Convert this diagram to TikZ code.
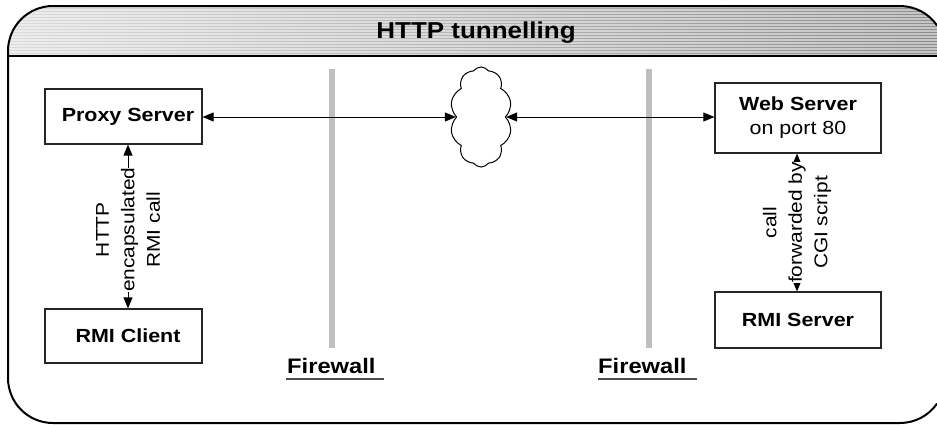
\documentclass[tikz,border=0pt]{standalone}
\usepackage{fontspec}
\setmainfont[FakeStretch=1.13]{Liberation Sans}
\usetikzlibrary{arrows.meta,shapes.symbols}
\begin{document}
\begin{tikzpicture}[x=1pt,y=-1pt,
  box/.style={draw=black!85, line width=1.2pt, inner sep=0pt, align=center},
  bl/.style={font=\fontsize{19pt}{24pt}\selectfont\bfseries},
  arr/.style={{Triangle[length=11pt,width=9pt]}-{Triangle[length=11pt,width=9pt]}, line width=1pt, black},
  vlab/.style={fill=white, inner sep=0pt, align=center, rotate=90, font=\fontsize{18.5pt}{25.5pt}\selectfont},
  fwbar/.style={line width=6pt, draw=black!25},
  fwlab/.style={inner sep=0pt, font=\fontsize{21pt}{25pt}\selectfont\bfseries},
  uline/.style={line width=1.5pt, draw=black!70},
  frame/.style={line width=2pt, draw=black}]

\useasboundingbox (0,0) rectangle (937,424);
\clip (0,0) rectangle (937,424);
% header band
\begin{scope}
  \clip (937,25.4) arc[start angle=325.3, end angle=270, radius=45] -- (53,6)
        arc[start angle=270, end angle=180, radius=45] -- (8,56) -- (937,56) -- cycle;
  \shade[left color=black!14, right color=black!45] (8,6) rectangle (937,56);
  \foreach \y in {7,10,...,55} \draw[white, opacity=0.5, line width=1.2pt] (8,\y) -- (937,\y);
\end{scope}
\draw[frame] (8,56) -- (937,56);
% outer frame (its right side lies beyond the page edge)
\draw[frame] (937,25.4) arc[start angle=325.3, end angle=270, radius=45] -- (53,6)
      arc[start angle=270, end angle=180, radius=45] -- (8,378)
      arc[start angle=180, end angle=90, radius=45] -- (900,423)
      arc[start angle=90, end angle=34.7, radius=45];

\node[anchor=base, inner sep=0pt, font=\fontsize{23pt}{27pt}\selectfont\bfseries] (title) at (476,38.3) {HTTP tunnelling};

% firewalls
\draw[fwbar] (331.5,69) -- (331.5,348);
\draw[fwbar] (648.5,69) -- (648.5,348);
\node[fwlab, anchor=base west] (fw1) at (287,373) {Firewall};
\draw[uline] ([xshift=-1pt,yshift=-6pt]fw1.base west) -- ++(98,0);
\node[fwlab, anchor=base west] (fw2) at (598,373) {Firewall};
\draw[uline] ([yshift=-6pt]fw2.base west) -- ++(99,0);

% boxes
\node[box, bl, minimum width=157pt, minimum height=55pt] (proxy) at (123.5,116.5) {\hspace*{9pt}Proxy Server};
\node[box, bl, minimum width=157pt, minimum height=54pt] (client) at (123.5,336) {\hspace*{9pt}RMI Client};
\node[box, minimum width=166pt, minimum height=70pt, font=\fontsize{19pt}{24pt}\selectfont] (web) at (798,118) {\textbf{Web Server}\\on port 80};
\node[box, bl, minimum width=166pt, minimum height=56pt] (rmis) at (798,320) {RMI Server};
\node[cloud, draw, line width=1pt, cloud puffs=10, cloud puff arc=110, aspect=0.62, minimum width=62pt, minimum height=100pt, inner sep=0pt] (cloud) at (481,117) {};

% connectors
\draw[arr] (proxy.east |- cloud.west) -- (cloud.west);
\draw[arr] (cloud.east) -- (web.west |- cloud.east);
\draw[arr] ([xshift=4.5pt]proxy.south) -- node[vlab, pos=0.52] (lab1) {HTTP\\encapsulated\\RMI call} ([xshift=4.5pt]client.north);
\draw[arr] ([xshift=-1pt]web.south) -- node[vlab] (lab2) {call\\forwarded by\\CGI script} ([xshift=-1pt]rmis.north);
\end{tikzpicture}
\end{document}
